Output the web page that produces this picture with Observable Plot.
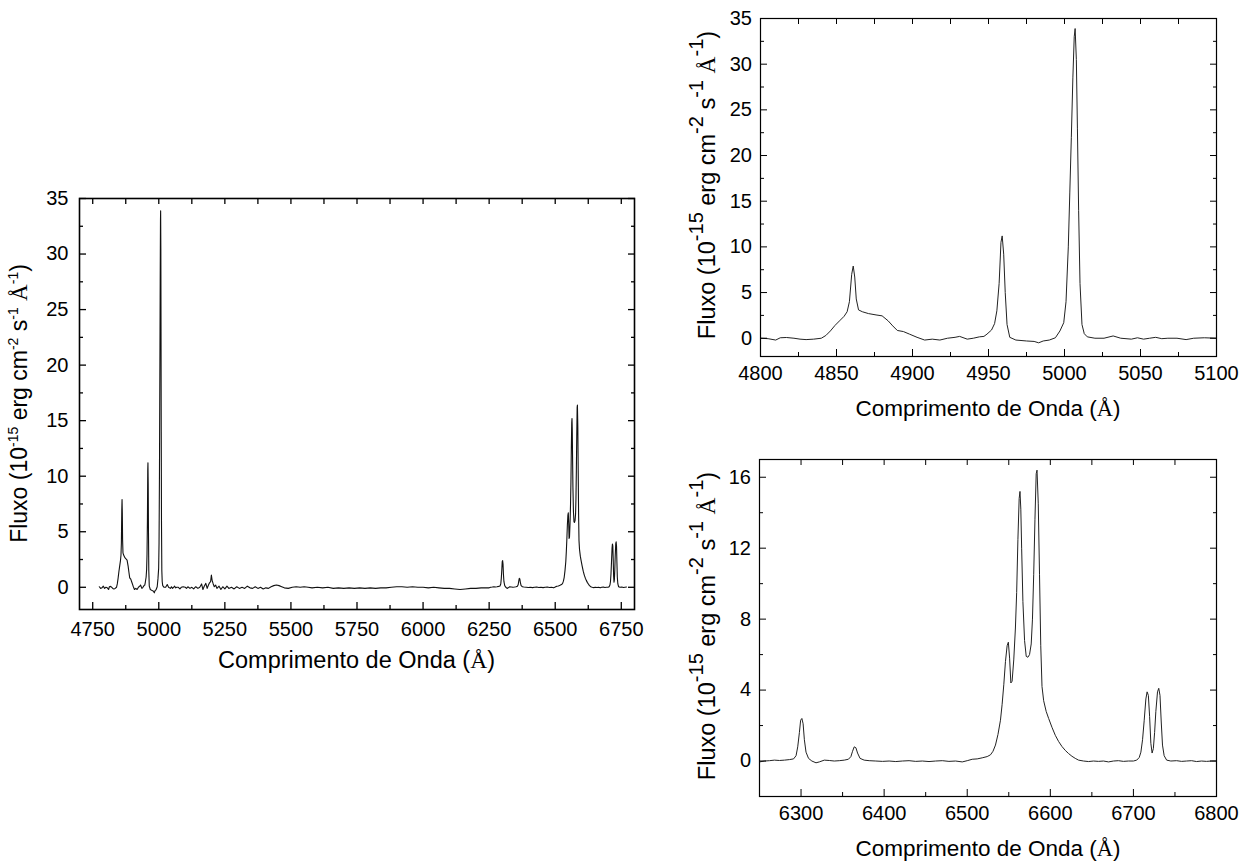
<!DOCTYPE html>
<html><head><meta charset="utf-8">
<script src="https://cdn.jsdelivr.net/npm/d3@7"></script>
<script src="https://cdn.jsdelivr.net/npm/@observablehq/plot@0.6"></script>
<style>
html,body{margin:0;padding:0;background:#fff;}
#root{position:relative;width:1246px;height:861px;overflow:hidden;font-family:"Liberation Sans",Arial,sans-serif;}
#root svg{position:absolute;overflow:visible;}
</style></head><body><div id="root"></div>
<script>
// ---- Spectrum data (wavelength in Å, flux in 1e-15 erg cm^-2 s^-1 Å^-1) ----
// Blue region: Hβ, [OIII] 4959, [OIII] 5007
const blueW = [4775,4780,4785,4790,4795,4800,4805,4810,4813,4817,4822,4826,4830,4835,4840,4843,4846,4849,4852,4855,4857,4858.5,4860,4861,4862,4863,4864.5,4867,4871,4876,4880,4884,4887,4890,4894,4898,4903,4908,4913,4918,4923,4928,4931,4936,4940,4944,4947,4949,4952,4954,4955.5,4957,4958.2,4959,4960,4961,4962.2,4964,4968,4975,4980,4983,4986,4990,4994,4997,4999.5,5001,5002.5,5003.5,5004.5,5005.5,5006.4,5007,5007.8,5008.5,5009.3,5010.2,5011.5,5013,5015,5020,5026,5032,5037,5044,5048,5052,5056,5060,5064,5068,5074,5080,5085,5092,5100];
const blueF = [0.05,-0.1,-0.05,0.1,-0.1,0.0,-0.05,-0.2,0.05,0.08,0.0,-0.1,-0.15,-0.1,0.0,0.3,0.8,1.4,1.9,2.4,2.9,4.0,7.0,7.9,6.7,4.3,3.1,2.9,2.7,2.55,2.45,1.9,1.35,0.85,0.73,0.45,0.1,-0.2,-0.1,-0.2,0.0,0.1,0.2,-0.1,0.0,0.15,0.2,0.45,0.9,1.6,3.0,6.0,10.5,11.2,9.2,5.0,1.5,0.1,-0.2,-0.3,-0.35,-0.5,-0.3,-0.2,0.05,0.8,1.7,4.0,10,16,22,28.5,33,33.9,30.5,23,14,6,1.5,0.5,0.15,0.0,0.0,0.25,0.0,-0.1,0.05,-0.1,0.0,0.1,-0.05,0.0,0.0,-0.15,0.0,0.05,0.0];
// Middle continuum
const midW = [5105,5110,5118,5125,5132,5140,5148,5155,5162,5167,5172,5178,5183,5188,5192,5196,5199,5202,5206,5210,5215,5220,5228,5235,5242,5250,5258,5265,5275,5285,5295,5305,5315,5325,5335,5345,5355,5365,5375,5385,5395,5405,5415,5425,5435,5445,5455,5465,5475,5490,5505,5520,5535,5550,5565,5580,5600,5620,5640,5660,5680,5700,5720,5740,5760,5780,5800,5820,5840,5860,5880,5900,5920,5940,5960,5980,6000,6020,6040,6060,6080,6100,6120,6140,6160,6180,6200,6220,6240];
const midF = [-0.1,0.05,-0.1,0.0,-0.15,0.05,-0.1,0.0,0.3,-0.2,0.1,0.35,-0.1,0.2,0.4,0.5,1.1,0.6,0.3,0.05,0.2,-0.1,0.1,-0.2,0.05,-0.15,0.1,-0.1,0.0,-0.15,0.05,-0.1,0.0,-0.1,0.1,-0.05,-0.1,0.05,-0.1,0.0,-0.15,-0.05,-0.1,0.05,0.15,0.2,0.15,0.05,-0.05,-0.1,0.0,0.05,0.0,0.05,0.0,-0.05,0.0,-0.05,0.0,-0.1,-0.05,-0.1,-0.05,-0.1,-0.05,-0.1,-0.05,-0.1,-0.05,-0.05,0.0,0.05,0.05,0.0,0.05,0.0,0.0,-0.05,0.0,-0.05,-0.1,-0.1,-0.15,-0.2,-0.15,-0.1,-0.1,-0.05,-0.05];
// Red region: [OI], Hα + [NII], [SII]
const redW = [6250,6256,6262,6268,6274,6280,6286,6291,6294,6296,6298,6299.5,6301,6302.5,6304,6306,6309,6313,6318,6322,6328,6334,6340,6346,6352,6357,6360,6362,6364,6366,6368,6371,6376,6382,6390,6398,6406,6414,6422,6430,6438,6446,6454,6462,6470,6478,6486,6494,6500,6506,6512,6518,6524,6528,6531,6534,6537,6540,6542,6544,6546,6548,6549.5,6551,6552.5,6554,6556,6558,6559.5,6561,6562.5,6563.5,6564.5,6565.5,6567,6569,6571,6573,6575,6577,6578.5,6580,6581.5,6583,6584,6585.5,6587,6588.5,6590,6592,6595,6598,6602,6606,6610,6614,6618,6622,6626,6630,6634,6640,6646,6652,6658,6664,6670,6676,6682,6688,6694,6700,6704,6707,6709,6711,6713,6715,6716.5,6718,6719.5,6721,6722.5,6724,6725.5,6727,6729,6730.5,6732,6733.5,6735,6737,6740,6745,6752,6758,6764,6770,6776,6782,6788,6794,6800];
const redF = [-0.05,0.0,0.02,0.05,0.03,0.05,0.08,0.12,0.3,0.8,1.6,2.3,2.4,2.1,1.2,0.5,0.15,0.0,-0.1,-0.05,0.05,0.03,0.0,0.02,0.05,0.1,0.25,0.55,0.8,0.75,0.45,0.15,0.05,0.02,0.0,-0.02,0.0,-0.03,0.0,0.02,-0.02,0.0,-0.03,0.0,0.02,-0.02,0.0,-0.05,0.02,0.1,0.12,0.18,0.25,0.35,0.55,0.9,1.5,2.3,3.2,4.3,5.6,6.5,6.7,5.8,4.4,4.5,5.7,7.5,9.5,12.5,14.8,15.2,14.2,12.0,9.0,6.8,5.9,5.85,6.0,6.6,8.0,10.5,13.6,16.2,16.4,14.5,10.5,6.5,4.2,3.4,2.8,2.4,1.9,1.45,1.1,0.82,0.6,0.42,0.27,0.15,0.05,0.0,-0.03,0.0,-0.02,0.0,-0.05,0.0,0.02,-0.02,0.0,0.0,0.05,0.2,0.5,1.2,2.3,3.5,3.9,3.7,2.5,1.0,0.45,0.7,1.6,2.8,3.9,4.1,3.7,2.2,0.9,0.3,0.05,0.0,0.02,-0.02,0.0,0.02,-0.03,0.0,-0.02,0.0,0.0];

// ---- Tick values ----
const fullXTicks = [4750,5000,5250,5500,5750,6000,6250,6500,6750];
const fullXMinor = [4875,5125,5375,5625,5875,6125,6375,6625];
const fullYTicks = [0,5,10,15,20,25,30,35];
const fullYMinor = [2.5,7.5,12.5,17.5,22.5,27.5,32.5];
const blueXTicks = [4800,4850,4900,4950,5000,5050,5100];
const blueXMinor = [4825,4875,4925,4975,5025,5075];
const blueYTicks = [0,5,10,15,20,25,30,35];
const blueYMinor = [2.5,7.5,12.5,17.5,22.5,27.5,32.5];
const redXTicks = [6300,6400,6500,6600,6700,6800];
const redXMinor = [6350,6450,6550,6650,6750];
const redYTicks = [0,4,8,12,16];
const redYMinor = [2,6,10,14];

const xTitleParts = ["Comprimento de Onda (", "Å", ")"];
const yTitleParts = [["Fluxo (10",0],["-15",1],[" erg cm",0],["-2",1],[" s",0],["-1",1],[" ",0],["Å",2],["-1",1],[")",0]];

function rows(w, f) { return w.map((x, i) => ({w: x, f: f[i]})); }
const blueRows = rows(blueW, blueF);
const midRows = rows(midW, midF);
const redRows = rows(redW, redF);

const root = document.getElementById("root");
const SANS = "Liberation Sans, Arial, sans-serif";
const SERIF = "Liberation Serif, Times New Roman, serif";

function panel(cfg) {
  const svg = Plot.plot({
    width: cfg.width, height: cfg.height,
    marginLeft: cfg.ml, marginRight: cfg.mr, marginTop: cfg.mt, marginBottom: cfg.mb,
    style: {fontFamily: SANS, fontSize: cfg.tickFont + "px", color: "#000", background: "transparent", overflow: "visible"},
    x: {domain: cfg.xDomain, label: null},
    y: {domain: cfg.yDomain, label: null},
    marks: [
      Plot.line(cfg.data, {x: "w", y: "f", stroke: cfg.lineColor, strokeWidth: cfg.lineWidth}),
      Plot.axisX({ticks: cfg.xTicks, anchor: "bottom", tickSize: -7, tickPadding: 7 + cfg.xPad, tickFormat: d => String(d), label: null, strokeWidth: cfg.tw}),
      Plot.axisX({ticks: cfg.xMinor, anchor: "bottom", tickSize: -4, fill: "none", label: null, strokeWidth: cfg.tw}),
      Plot.axisX({ticks: cfg.xTicks.concat(cfg.xMinor), anchor: "top", tickSize: -5, fill: "none", label: null, strokeWidth: cfg.tw}),
      Plot.axisY({ticks: cfg.yTicks, anchor: "left", tickSize: -7, tickPadding: 7 + cfg.yPad, tickFormat: d => String(d), label: null, strokeWidth: cfg.tw}),
      Plot.axisY({ticks: cfg.yMinor, anchor: "left", tickSize: -4, fill: "none", label: null, strokeWidth: cfg.tw}),
      Plot.axisY({ticks: cfg.yTicks, anchor: "right", tickSize: -7, fill: "none", label: null, strokeWidth: cfg.tw}),
      Plot.axisY({ticks: cfg.yMinor, anchor: "right", tickSize: -4, fill: "none", label: null, strokeWidth: cfg.tw}),
      Plot.frame({stroke: "#000", strokeWidth: cfg.fw})
    ]
  });
  svg.style.left = cfg.left + "px";
  svg.style.top = cfg.top + "px";
  root.appendChild(svg);
  const s = d3.select(svg);
  // x title
  const xt = s.append("text")
    .attr("x", cfg.xt.x).attr("y", cfg.xt.y)
    .attr("text-anchor", "middle").attr("font-family", SANS)
    .attr("font-size", cfg.xt.size).attr("fill", "#000");
  xt.append("tspan").text(xTitleParts[0]);
  xt.append("tspan").attr("font-family", SERIF).text(xTitleParts[1]);
  xt.append("tspan").text(xTitleParts[2]);
  // y title (rotated, with superscripts)
  const yt = s.append("text")
    .attr("transform", `translate(${cfg.yt.x},${cfg.yt.y}) rotate(-90)`)
    .attr("text-anchor", "middle").attr("font-family", SANS)
    .attr("font-size", cfg.yt.size).attr("fill", "#000");
  let raised = false;
  for (const [t, kind] of yTitleParts) {
    const sp = yt.append("tspan").text(t);
    if (kind === 1) {
      sp.attr("font-size", cfg.yt.sup);
      if (!raised) { sp.attr("dy", -cfg.yt.shift); raised = true; }
    } else {
      if (raised) { sp.attr("dy", cfg.yt.shift); raised = false; }
      if (kind === 2) sp.attr("font-family", SERIF);
    }
  }
}

// Left: full spectrum
panel({
  left: 0, top: 170, width: 660, height: 520, ml: 79, mr: 26, mt: 28, mb: 81,
  xDomain: [4700, 6800], yDomain: [-2, 35],
  xTicks: fullXTicks, xMinor: fullXMinor, yTicks: fullYTicks, yMinor: fullYMinor,
  data: blueRows.concat(midRows, redRows.filter(d => d.w <= 6770)),
  lineColor: "#111", lineWidth: 1.1, fw: 1.6, tw: 1.3, tickFont: 20, xPad: 12, yPad: 11,
  xt: {x: 356.5, y: 498, size: 23.5},
  yt: {x: 27, y: 233.5, size: 23, sup: 14, shift: 9}
});
// Top right: blue zoom
panel({
  left: 680, top: 0, width: 566, height: 430, ml: 80, mr: 30, mt: 18, mb: 74,
  xDomain: [4800, 5100], yDomain: [-2, 35],
  xTicks: blueXTicks, xMinor: blueXMinor, yTicks: blueYTicks, yMinor: blueYMinor,
  data: blueRows.filter(d => d.w >= 4800),
  lineColor: "#222", lineWidth: 1, fw: 1.2, tw: 1, tickFont: 20, xPad: 9, yPad: 8.5,
  xt: {x: 308, y: 416, size: 22.5},
  yt: {x: 35, y: 185, size: 23.5, sup: 20, shift: 12}
});
// Bottom right: red zoom
panel({
  left: 680, top: 440, width: 566, height: 421, ml: 79, mr: 30, mt: 19, mb: 65,
  xDomain: [6250, 6800], yDomain: [-2, 17],
  xTicks: redXTicks, xMinor: redXMinor, yTicks: redYTicks, yMinor: redYMinor,
  data: redRows,
  lineColor: "#222", lineWidth: 1, fw: 1.2, tw: 1, tickFont: 20, xPad: 9, yPad: 8.5,
  xt: {x: 308, y: 416, size: 22.5},
  yt: {x: 35, y: 186, size: 23.5, sup: 20, shift: 12}
});
</script></body></html>
